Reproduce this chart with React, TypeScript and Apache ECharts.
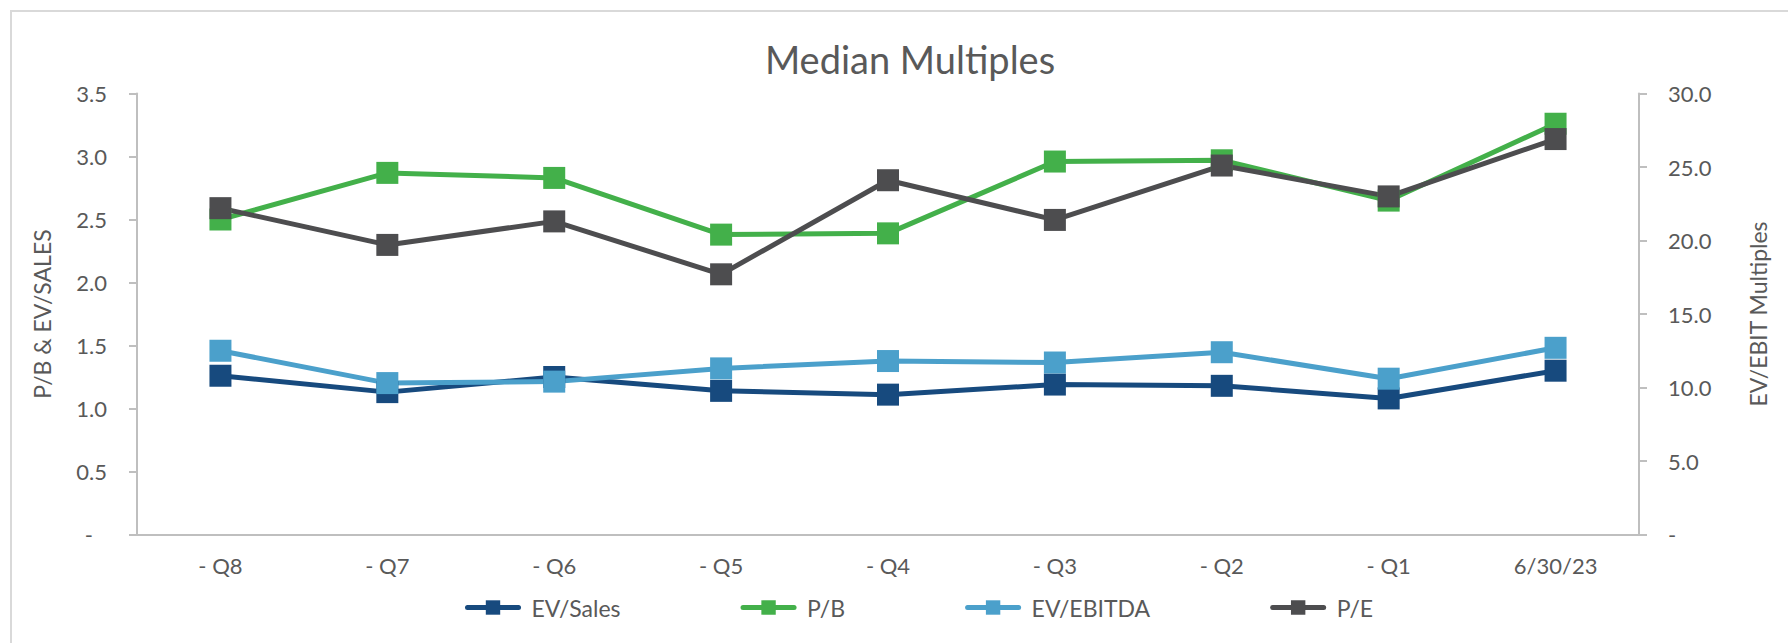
import React, { useEffect, useRef } from "react";
import * as echarts from "echarts";

const categories = ["- Q8", "- Q7", "- Q6", "- Q5", "- Q4", "- Q3", "- Q2", "- Q1", "6/30/23"];
const evSales = [1.26, 1.13, 1.25, 1.14, 1.11, 1.19, 1.18, 1.08, 1.3];
const pb = [2.5, 2.87, 2.83, 2.38, 2.39, 2.96, 2.97, 2.65, 3.26];
const evEbitda = [12.5, 10.3, 10.4, 11.3, 11.8, 11.7, 12.4, 10.6, 12.7];
const pe = [22.2, 19.7, 21.3, 17.7, 24.1, 21.4, 25.1, 23.0, 26.9];

const FONT = "Lato";
const TXT = "#595959";
const AXIS = "#bfbfbf";

export default function App() {
  const ref = useRef<HTMLDivElement>(null);
  useEffect(() => {
    if (!ref.current) return;
    const chart = echarts.init(ref.current, undefined, { renderer: "svg" });
    const mk = (name: string, data: number[], color: string, yAxisIndex: number) => ({
      name,
      type: "line",
      data,
      yAxisIndex,
      symbol: "rect",
      symbolSize: 22,
      lineStyle: { width: 5, color },
      itemStyle: { color },
      emphasis: { disabled: true },
    });
    chart.setOption({
      animation: false,
      textStyle: { fontFamily: FONT },
      title: {
        text: "Median Multiples",
        left: 905,
        top: 35,
        textAlign: "center",
        textStyle: { fontFamily: FONT, fontSize: 38, fontWeight: "normal", color: TXT },
      },
      graphic: [
        {
          type: "rect",
          shape: { x: 11, y: 11, width: 1800, height: 700 },
          style: { fill: "none", stroke: "#d9d9d9", lineWidth: 2 },
          silent: true,
        },
      ],
      grid: { left: 137, right: 149, top: 93.5, bottom: 108.5 },
      legend: {
        left: 460,
        top: 591,
        itemWidth: 51,
        itemHeight: 18,
        itemGap: 120,
        lineStyle: { width: 5, cap: "round" },
        textStyle: { fontFamily: FONT, fontSize: 23, color: TXT, padding: [0, 0, 0, 8] },
        data: ["EV/Sales", "P/B", "EV/EBITDA", "P/E"],
      },
      xAxis: {
        type: "category",
        data: categories,
        boundaryGap: true,
        axisLine: { lineStyle: { color: AXIS, width: 2 } },
        axisTick: { show: false },
        axisLabel: { color: TXT, fontFamily: FONT, fontSize: 22, margin: 20 },
      },
      yAxis: [
        {
          type: "value",
          min: 0,
          max: 3.5,
          interval: 0.5,
          position: "left",
          name: "P/B & EV/SALES",
          nameLocation: "middle",
          nameGap: 84,
          nameTextStyle: { color: TXT, fontFamily: FONT, fontSize: 23 },
          axisLine: { show: true, lineStyle: { color: AXIS, width: 2 } },
          axisTick: { show: true, length: 8, lineStyle: { color: AXIS, width: 2 } },
          splitLine: { show: false },
          axisLabel: {
            color: TXT,
            fontFamily: FONT,
            fontSize: 22,
            margin: 30,
            formatter: (v: number) => (v === 0 ? "{d|-}" : v.toFixed(1)),
            rich: { d: { color: TXT, fontFamily: FONT, fontSize: 22, padding: [0, 14, 0, 0] } },
          },
        },
        {
          type: "value",
          min: 0,
          max: 30,
          interval: 5,
          position: "right",
          name: "EV/EBIT Multiples",
          nameLocation: "middle",
          nameGap: 107,
          nameTextStyle: { color: TXT, fontFamily: FONT, fontSize: 23 },
          axisLine: { show: true, lineStyle: { color: AXIS, width: 2 } },
          axisTick: { show: true, length: 8, lineStyle: { color: AXIS, width: 2 } },
          splitLine: { show: false },
          axisLabel: {
            color: TXT,
            fontFamily: FONT,
            fontSize: 22,
            margin: 29,
            formatter: (v: number) => (v === 0 ? "-" : v.toFixed(1)),
          },
        },
      ],
      series: [
        mk("EV/Sales", evSales, "#174a7e", 0),
        mk("P/B", pb, "#43b04a", 0),
        mk("EV/EBITDA", evEbitda, "#4ba0cb", 1),
        mk("P/E", pe, "#4d4d4f", 1),
      ],
    });
    return () => chart.dispose();
  }, []);
  return (
    <div
      ref={ref}
      style={{ position: "absolute", left: 0, top: 0, width: 1788, height: 643, background: "#fff" }}
    />
  );
}
